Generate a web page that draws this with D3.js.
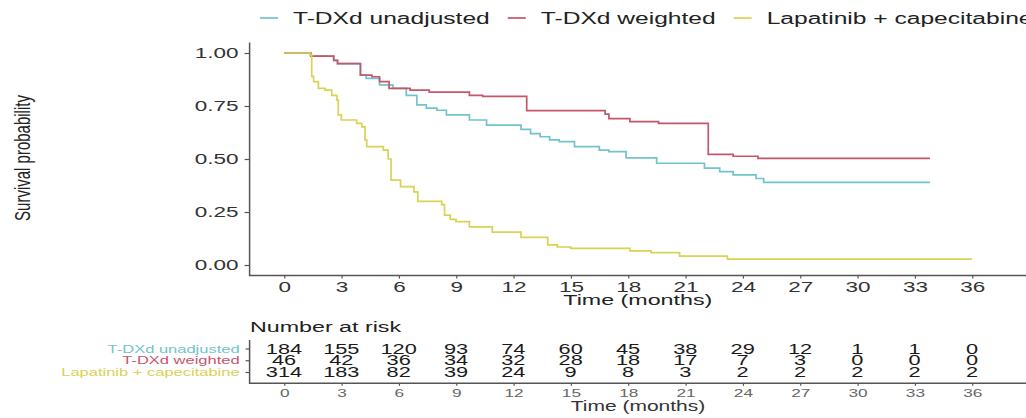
<!DOCTYPE html>
<html>
<head>
<meta charset="utf-8">
<script src="https://cdn.jsdelivr.net/npm/d3@7"></script>
<style>
  body { margin: 0; background: #fff; }
  text { font-family: "Liberation Sans", Arial, sans-serif; }
</style>
</head>
<body>
<div id="chart"></div>
<script>
//////////////////////
//  data            //
//////////////////////
const groups = ["T-DXd unadjusted", "T-DXd weighted", "Lapatinib + capecitabine"];
const colors = ["#72c3cb", "#c4566a", "#d8d255"];

const unadjTime = [0, 1.4, 2.6, 2.8, 4.0, 4.3, 5.0, 5.7, 6.4, 6.95, 7.45, 8.0, 8.5, 9.7, 10.6, 12.4, 12.9, 13.4, 13.9, 14.4, 15.2, 16.5, 17.0, 17.9, 19.5, 22.0, 22.8, 23.5, 24.7, 25.1, 33.8];
const unadjSurv = [1, 0.985, 0.965, 0.95, 0.895, 0.88, 0.85, 0.833, 0.80, 0.755, 0.74, 0.73, 0.708, 0.684, 0.66, 0.64, 0.62, 0.605, 0.59, 0.582, 0.558, 0.542, 0.535, 0.505, 0.48, 0.457, 0.44, 0.425, 0.408, 0.39, 0.39];

const weightTime = [0, 1.4, 2.6, 2.8, 4.0, 4.6, 5.0, 5.5, 6.6, 7.6, 9.7, 10.4, 12.7, 16.8, 17.0, 18.1, 19.6, 22.2, 23.5, 24.8, 33.8];
const weightSurv = [1, 0.985, 0.965, 0.95, 0.896, 0.888, 0.865, 0.833, 0.825, 0.815, 0.80, 0.795, 0.728, 0.712, 0.69, 0.676, 0.668, 0.522, 0.513, 0.503, 0.503];

const lapTime = [0, 1.36, 1.45, 1.55, 1.8, 2.15, 2.5, 2.76, 2.84, 3.0, 3.8, 4.07, 4.24, 4.33, 5.2, 5.45, 5.6, 6.1, 6.8, 7.0, 8.25, 8.4, 8.7, 9.0, 9.7, 10.9, 12.4, 13.8, 14.3, 15.0, 18.1, 19.2, 20.7, 23.2, 36];
const lapSurv = [1, 0.99, 0.89, 0.865, 0.833, 0.825, 0.80, 0.778, 0.708, 0.684, 0.668, 0.652, 0.59, 0.558, 0.542, 0.50, 0.40, 0.37, 0.345, 0.30, 0.285, 0.235, 0.215, 0.205, 0.18, 0.155, 0.13, 0.095, 0.085, 0.078, 0.067, 0.058, 0.042, 0.028, 0.028];

const riskTimes = [0, 3, 6, 9, 12, 15, 18, 21, 24, 27, 30, 33, 36];
const riskUnadj = [184, 155, 120, 93, 74, 60, 45, 38, 29, 12, 1, 1, 0];
const riskWeight = [46, 42, 36, 34, 32, 28, 18, 17, 7, 3, 0, 0, 0];
const riskLap = [314, 183, 82, 39, 24, 9, 8, 3, 2, 2, 2, 2, 2];

const yTicks = [0, 0.25, 0.5, 0.75, 1];

//////////////////////
//  layout          //
//////////////////////
// the picture is stretched sideways, so draw in a narrower box and let it stretch
const WIDTH = 1026, HEIGHT = 418;
const S = 1.5;
const VW = WIDTH / S;

const svg = d3.select("#chart").append("svg")
  .attr("width", WIDTH).attr("height", HEIGHT)
  .attr("viewBox", [0, 0, VW, HEIGHT])
  .attr("preserveAspectRatio", "none");

const x = d3.scaleLinear().domain([0, 36]).range([284 / S, 972 / S]);
const y = d3.scaleLinear().domain([0, 1]).range([265, 53]);
const panelLeft = x(-1.8);

const axisColor = "#555";

// series
const series = [
  { name: groups[0], t: unadjTime, s: unadjSurv, c: colors[0] },
  { name: groups[1], t: weightTime, s: weightSurv, c: colors[1] },
  { name: groups[2], t: lapTime, s: lapSurv, c: colors[2] }
];

const line = d3.line()
  .x(d => x(d[0])).y(d => y(d[1]))
  .curve(d3.curveStepAfter);

svg.append("g").selectAll("path")
  .data(series)
  .join("path")
  .attr("d", d => line(d.t.map((t, i) => [t, d.s[i]])))
  .attr("fill", "none")
  .attr("stroke", d => d.c)
  .attr("stroke-width", 1.7)
  .attr("vector-effect", "non-scaling-stroke");

// y axis
const yAxis = svg.append("g")
  .attr("transform", `translate(${panelLeft},0)`)
  .call(d3.axisLeft(y).tickValues(yTicks).tickFormat(d3.format(".2f"))
    .tickSize(5 / S).tickPadding(4).tickSizeOuter(0));
yAxis.select(".domain").remove();
yAxis.selectAll("line").attr("stroke", axisColor).attr("vector-effect", "non-scaling-stroke").attr("stroke-width", 1.2);
yAxis.selectAll("text").attr("font-size", 15).attr("fill", "#333");

// x axis
const xAxis = svg.append("g")
  .attr("transform", `translate(0,${y(-0.05)})`)
  .call(d3.axisBottom(x).tickValues(riskTimes).tickSize(3).tickPadding(2.4).tickSizeOuter(0));
xAxis.select(".domain").remove();
xAxis.selectAll("line").attr("stroke", axisColor).attr("vector-effect", "non-scaling-stroke").attr("stroke-width", 1.2);
xAxis.selectAll("text").attr("font-size", 15).attr("fill", "#333");

// panel axis lines
svg.append("path")
  .attr("d", `M${panelLeft},${y(1.05)}V${y(-0.05)}H${VW}`)
  .attr("fill", "none").attr("stroke", axisColor).attr("stroke-width", 1.5)
  .attr("vector-effect", "non-scaling-stroke");

svg.append("text")
  .attr("x", (panelLeft + VW) / 2).attr("y", 305)
  .attr("text-anchor", "middle").attr("font-size", 15.5).attr("fill", "#222")
  .text("Time (months)");

svg.append("text")
  .attr("transform", `translate(${22 / S},158) rotate(-90)`)
  .attr("text-anchor", "middle").attr("dy", "0.35em")
  .attr("font-size", 15).attr("fill", "#222")
  .text("Survival probability");

// legend
const legend = svg.append("g").attr("transform", "translate(0,18)");
let lx = 260 / S;
series.forEach(d => {
  legend.append("line")
    .attr("x1", lx).attr("x2", lx + 12).attr("y1", 0).attr("y2", 0)
    .attr("stroke", d.c).attr("stroke-width", 1.7)
    .attr("vector-effect", "non-scaling-stroke");
  const t = legend.append("text")
    .attr("x", lx + 22).attr("y", 0).attr("dy", "0.36em")
    .attr("font-size", 16.4).attr("fill", "#222")
    .text(d.name);
  lx += 22 + t.node().getComputedTextLength() + 12;
});

//////////////////////
//  risk table      //
//////////////////////
const riskRows = [riskUnadj, riskWeight, riskLap];
const ry = d3.scalePoint().domain(groups).range([348.5, 372]);

svg.append("text")
  .attr("x", 250 / S).attr("y", 332)
  .attr("font-size", 15.5).attr("fill", "#222")
  .text("Number at risk");

const tbl = svg.append("g");
riskRows.forEach((row, gi) => {
  tbl.append("g").selectAll("text")
    .data(row)
    .join("text")
    .attr("x", (d, i) => x(riskTimes[i]))
    .attr("y", ry(groups[gi]))
    .attr("dy", "0.36em")
    .attr("text-anchor", "middle")
    .attr("font-size", 14.5)
    .attr("fill", "#1a1a1a")
    .text(d => d);
});

const ryAxis = svg.append("g")
  .attr("transform", `translate(${panelLeft},0)`)
  .call(d3.axisLeft(ry).tickSize(4 / S).tickPadding(4).tickSizeOuter(0));
ryAxis.select(".domain").remove();
ryAxis.selectAll("line").attr("stroke", axisColor).attr("vector-effect", "non-scaling-stroke").attr("stroke-width", 1.2);
ryAxis.selectAll("text")
  .attr("font-size", 11)
  .attr("fill", (d, i) => colors[i]);

const rxAxis = svg.append("g")
  .attr("transform", "translate(0,383.3)")
  .call(d3.axisBottom(x).tickValues(riskTimes).tickSize(2.5).tickPadding(3).tickSizeOuter(0));
rxAxis.select(".domain").remove();
rxAxis.selectAll("line").attr("stroke", axisColor).attr("vector-effect", "non-scaling-stroke").attr("stroke-width", 1.2);
rxAxis.selectAll("text").attr("font-size", 11.5).attr("fill", "#666");

svg.append("path")
  .attr("d", `M${panelLeft},340V383.3H${VW}`)
  .attr("fill", "none").attr("stroke", axisColor).attr("stroke-width", 1.5)
  .attr("vector-effect", "non-scaling-stroke");

svg.append("text")
  .attr("x", 638 / S).attr("y", 411)
  .attr("text-anchor", "middle").attr("font-size", 14).attr("fill", "#333")
  .text("Time (months)");
</script>
</body>
</html>
